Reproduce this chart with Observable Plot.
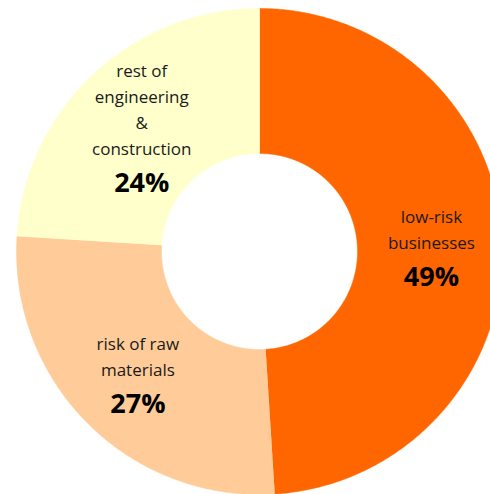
<!DOCTYPE html>
<html><head><meta charset="utf-8">
<script src="https://cdn.jsdelivr.net/npm/d3@7"></script>
<script src="https://cdn.jsdelivr.net/npm/@observablehq/plot@0.6"></script>
<style>html,body{margin:0;padding:0;background:#fff}#chart svg{display:block}</style>
</head><body><div id="chart"></div>
<script>
// ---- data ----
const categories = ["low-risk\nbusinesses", "risk of raw\nmaterials", "rest of\nengineering\n&\nconstruction"];
const shares = [49, 27, 24];
const pctLabels = ["49%", "27%", "24%"];
const colors = ["#FF6600", "#FFCC99", "#FFFFCC"];

// ---- layout ----
const W = 490, H = 494;
const cx = 259, cy = 251, R = 243, rInner = 98, rLabel = 172;
const nameSize = 17, lineGap = 26, pctGap = 36, pctSize = 27;

const pie = d3.pie().sort(null).value(d => d)(shares);
const inner = rInner / R;
const pts = [];
pie.forEach((s, i) => {
  const steps = Math.max(2, Math.ceil((s.endAngle - s.startAngle) / (Math.PI / 360)));
  for (let k = 0; k <= steps; k++) {
    const a = s.startAngle + (s.endAngle - s.startAngle) * k / steps;
    pts.push({name: categories[i], x: Math.sin(a), y: Math.cos(a)});
  }
  for (let k = steps; k >= 0; k--) {
    const a = s.startAngle + (s.endAngle - s.startAngle) * k / steps;
    pts.push({name: categories[i], x: inner * Math.sin(a), y: inner * Math.cos(a)});
  }
});

const labelMarks = pie.flatMap((s, i) => {
  const a = (s.startAngle + s.endAngle) / 2;
  const d = {name: categories[i], pct: pctLabels[i], x: rLabel / R * Math.sin(a), y: rLabel / R * Math.cos(a)};
  const n = categories[i].split("\n").length;
  return [
    Plot.text([d], {x: "x", y: "y", text: "name", lineAnchor: "middle", dy: -pctGap / 2,
      fontSize: nameSize, lineHeight: lineGap / nameSize, fill: "#1a1a1a"}),
    Plot.text([d], {x: "x", y: "y", text: "pct", lineAnchor: "middle", dy: (n - 1) * lineGap / 2 + pctGap / 2,
      fontSize: pctSize, fontWeight: "bold", fill: "#000"})
  ];
});

const chart = Plot.plot({
  width: W, height: H, margin: 0,
  style: {fontFamily: "'Open Sans', sans-serif", background: "#fff"},
  x: {domain: [-cx / R, (W - cx) / R], axis: null},
  y: {domain: [-(H - cy) / R, cy / R], axis: null},
  color: {domain: categories, range: colors},
  marks: [
    Plot.line(pts, {x: "x", y: "y", z: "name", fill: "name", stroke: "name", strokeWidth: 0.5}),
    ...labelMarks
  ]
});
document.getElementById("chart").appendChild(chart);
</script>
</body></html>
